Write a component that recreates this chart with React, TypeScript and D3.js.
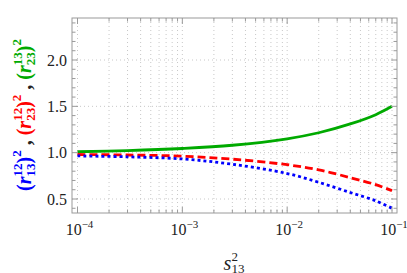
import React from "react";
import * as d3 from "d3";

// s13^2 sample points
const s13sq = [1e-4, 3e-4, 1e-3, 3e-3, 1e-2, 2e-2, 4e-2, 7e-2, 1e-1];
const r1323 = [1.01, 1.022, 1.045, 1.08, 1.15, 1.215, 1.31, 1.41, 1.5]; // green
const r1223 = [0.98, 0.975, 0.962, 0.93, 0.87, 0.815, 0.73, 0.655, 0.59]; // red
const r1213 = [0.965, 0.955, 0.932, 0.875, 0.775, 0.68, 0.57, 0.48, 0.4]; // blue

const yTicks = [0.5, 1.0, 1.5, 2.0];
const xTickExps = ["-4", "-3", "-2", "-1"];

const W = 407;
const H = 273;
const frame = { left: 72, right: 397, top: 18, bottom: 213 };
const FONT = "Liberation Serif";

const App = () => {
  const x = d3.scaleLog().domain([1e-4, 1e-1]).range([77.5, 392]);
  const y = d3.scaleLinear().domain([0.5, 2.0]).range([199, 60]);

  // minor x positions: 1..9 in each decade
  const xMinor: number[] = [];
  for (let e = -4; e <= -1; e++) {
    for (let m = 1; m <= 9; m++) {
      const v = m * Math.pow(10, e);
      if (v <= 0.1 + 1e-12) xMinor.push(v);
    }
  }
  const yMinor = d3.range(4, 25).map((d) => d / 10);

  const line = d3
    .line<[number, number]>()
    .x((d) => x(d[0]))
    .y((d) => y(d[1]))
    .curve(d3.curveCatmullRom.alpha(0.5));

  const series = [
    { vals: r1323, color: "#00aa00", dash: "none" },
    { vals: r1223, color: "#ff0000", dash: "8,4" },
    { vals: r1213, color: "#0000ff", dash: "3,3" },
  ];

  const grid = "#c8c8c8";
  const frameColor = "#9a9a9a";

  const isMajorX = (v: number) => Math.abs(Math.log10(v) - Math.round(Math.log10(v))) < 1e-9;

  const yLabelGroup = (sup: string, sub: string, color: string) => (
    <>
      <tspan fill={color}>(</tspan>
      <tspan fill={color} fontStyle="italic">r</tspan>
      <tspan fill={color} fontSize={13} dy={-9}>{sup}</tspan>
      <tspan fill={color} fontSize={13} dx={-13} dy={13}>{sub}</tspan>
      <tspan fill={color} dy={-4}>)</tspan>
      <tspan fill={color} fontSize={13} dy={-10}>2</tspan>
      <tspan dy={10}>{" "}</tspan>
    </>
  );

  return (
    <svg
      width={W}
      height={H}
      style={{ position: "absolute", left: 0, top: 0, background: "#fff" }}
    >
      {/* grid */}
      {xMinor.map((v, i) => (
        <line key={"gx" + i} x1={x(v)} x2={x(v)} y1={frame.top} y2={frame.bottom}
          stroke={grid} strokeWidth={1} strokeDasharray="1,3" />
      ))}
      {yTicks.map((v, i) => (
        <line key={"gy" + i} x1={frame.left} x2={frame.right} y1={y(v)} y2={y(v)}
          stroke={grid} strokeWidth={1} strokeDasharray="1,3" />
      ))}

      {/* curves */}
      {series.map((s, i) => (
        <path key={"s" + i}
          d={line(s13sq.map((v, j) => [v, s.vals[j]] as [number, number])) || ""}
          fill="none" stroke={s.color} strokeWidth={2.8}
          strokeDasharray={s.dash} />
      ))}

      {/* frame */}
      <rect x={frame.left} y={frame.top} width={frame.right - frame.left}
        height={frame.bottom - frame.top} fill="none" stroke={frameColor} strokeWidth={1} />

      {/* x ticks */}
      {xMinor.map((v, i) => {
        const len = isMajorX(v) ? 6 : 3.5;
        return (
          <g key={"xt" + i} stroke={frameColor}>
            <line x1={x(v)} x2={x(v)} y1={frame.bottom} y2={frame.bottom - len} />
            <line x1={x(v)} x2={x(v)} y1={frame.top} y2={frame.top + len} />
          </g>
        );
      })}
      {/* y ticks */}
      {yMinor.map((v, i) => {
        const len = Math.abs(v * 2 - Math.round(v * 2)) < 1e-9 ? 6 : 3.5;
        return (
          <g key={"yt" + i} stroke={frameColor}>
            <line x1={frame.left} x2={frame.left + len} y1={y(v)} y2={y(v)} />
            <line x1={frame.right} x2={frame.right - len} y1={y(v)} y2={y(v)} />
          </g>
        );
      })}

      {/* y tick labels */}
      {yTicks.map((v, i) => (
        <text key={"yl" + i} x={67} y={y(v)} dy="0.35em" textAnchor="end" fontSize={16}
          fill="#222" style={{ fontFamily: FONT }}>
          {v.toFixed(1)}
        </text>
      ))}

      {/* x tick labels */}
      {xTickExps.map((e, i) => (
        <text key={"xl" + i} x={x(Math.pow(10, +e)) + 2} y={235} textAnchor="middle" fontSize={16}
          fill="#222" style={{ fontFamily: FONT }}>
          10<tspan fontSize={11} dy={-7}>{"\u2212" + e.slice(1)}</tspan>
        </text>
      ))}

      {/* x axis label */}
      <text x={234} y={270} textAnchor="middle" fontSize={20} fill="#222" style={{ fontFamily: FONT }}>
        <tspan fontStyle="italic">s</tspan>
        <tspan fontSize={13} dy={-9}>2</tspan>
        <tspan fontSize={13} dx={-6.5} dy={12}>13</tspan>
      </text>

      {/* y axis label */}
      <text transform={`translate(31, 115) rotate(-90)`} textAnchor="middle" fontSize={20}
        fontWeight="bold" style={{ fontFamily: FONT }}>
        {yLabelGroup("12", "13", "#0000ff")}
        <tspan fill="#222">,</tspan>
        <tspan>{" "}</tspan>
        {yLabelGroup("12", "23", "#ff0000")}
        <tspan fill="#222">,</tspan>
        <tspan>{" "}</tspan>
        {yLabelGroup("13", "23", "#00aa00")}
      </text>
    </svg>
  );
};

export default App;
